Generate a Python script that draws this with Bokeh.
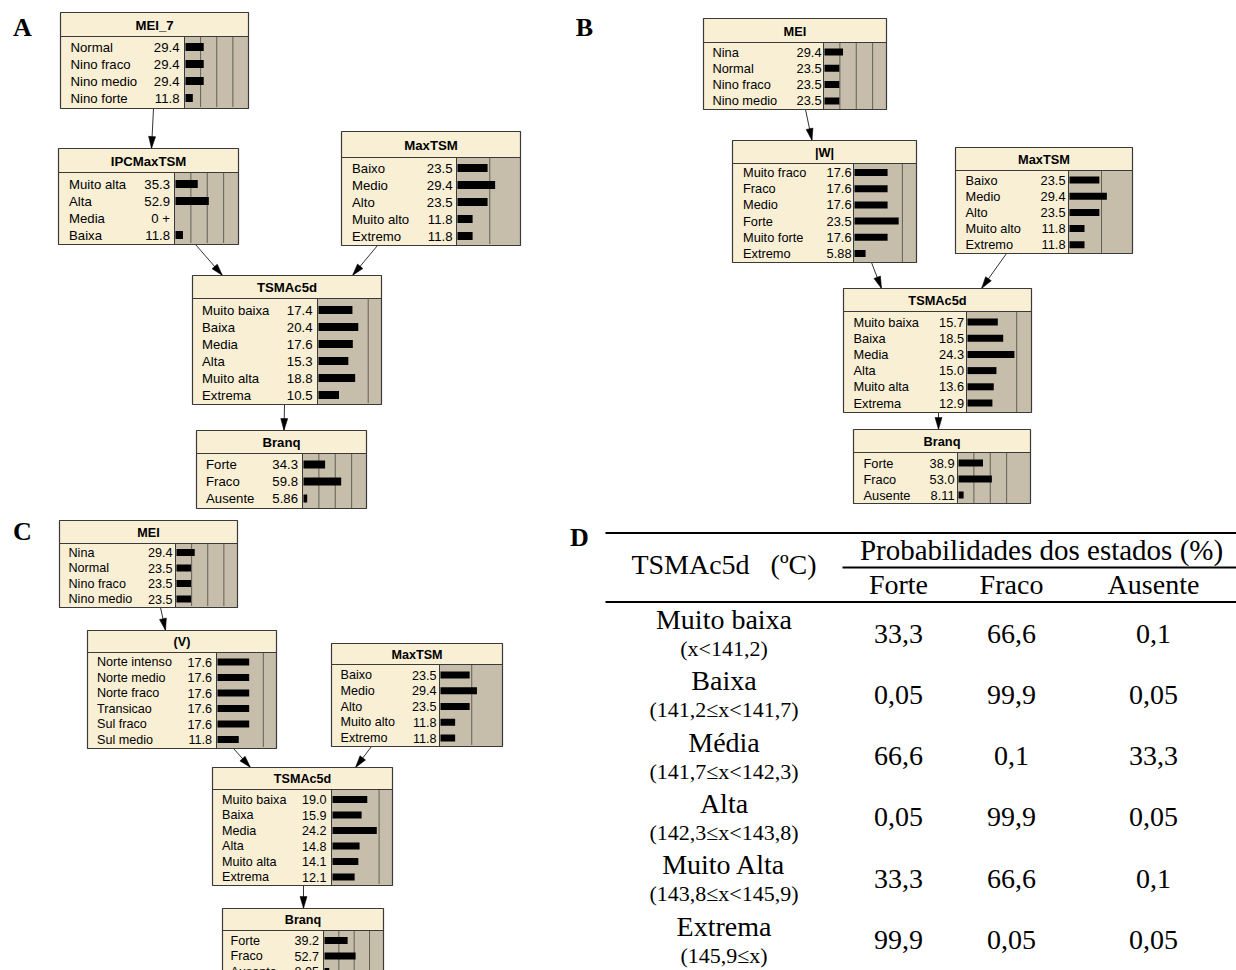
from bokeh.plotting import figure
from bokeh.models import Range1d
from bokeh.core.properties import value
from bokeh.embed import file_html
from bokeh.resources import INLINE
import math

# ---------------- data ----------------
# Panel A
A_mei7_states = ["Normal", "Nino fraco", "Nino medio", "Nino forte"]
A_mei7_probs = [29.4, 29.4, 29.4, 11.8]
A_ipc_states = ["Muito alta", "Alta", "Media", "Baixa"]
A_ipc_probs = [35.3, 52.9, 0.0, 11.8]
maxtsm_states = ["Baixo", "Medio", "Alto", "Muito alto", "Extremo"]
A_maxtsm_probs = [23.5, 29.4, 23.5, 11.8, 11.8]
tsm_states = ["Muito baixa", "Baixa", "Media", "Alta", "Muito alta", "Extrema"]
A_tsm_probs = [17.4, 20.4, 17.6, 15.3, 18.8, 10.5]
branq_states = ["Forte", "Fraco", "Ausente"]
A_branq_probs = [34.3, 59.8, 5.86]

# Panel B
mei_states = ["Nina", "Normal", "Nino fraco", "Nino medio"]
B_mei_probs = [29.4, 23.5, 23.5, 23.5]
B_w_states = ["Muito fraco", "Fraco", "Medio", "Forte", "Muito forte", "Extremo"]
B_w_probs = [17.6, 17.6, 17.6, 23.5, 17.6, 5.88]
B_maxtsm_probs = [23.5, 29.4, 23.5, 11.8, 11.8]
B_tsm_probs = [15.7, 18.5, 24.3, 15.0, 13.6, 12.9]
B_branq_probs = [38.9, 53.0, 8.11]

# Panel C
C_mei_probs = [29.4, 23.5, 23.5, 23.5]
C_v_states = ["Norte intenso", "Norte medio", "Norte fraco", "Transicao", "Sul fraco", "Sul medio"]
C_v_probs = [17.6, 17.6, 17.6, 17.6, 17.6, 11.8]
C_maxtsm_probs = [23.5, 29.4, 23.5, 11.8, 11.8]
C_tsm_probs = [19.0, 15.9, 24.2, 14.8, 14.1, 12.1]
C_branq_probs = [39.2, 52.7, 8.05]

# Panel D (table)
D_row_header = "TSMAc5d\u00a0\u00a0\u00a0(ºC)"
D_group_header = "Probabilidades dos estados (%)"
D_cols = ["Forte", "Fraco", "Ausente"]
D_classes = ["Muito baixa", "Baixa", "Média", "Alta", "Muito Alta", "Extrema"]
D_ranges = ["(x<141,2)", "(141,2≤x<141,7)", "(141,7≤x<142,3)",
            "(142,3≤x<143,8)", "(143,8≤x<145,9)", "(145,9≤x)"]
D_forte = [33.3, 0.05, 66.6, 0.05, 33.3, 99.9]
D_fraco = [66.6, 99.9, 0.1, 99.9, 66.6, 0.05]
D_ausente = [0.1, 0.05, 33.3, 0.05, 0.1, 0.05]

# ---------------- styles ----------------
CREAM = "#F8EFD5"
TAN = "#C6BEAA"
BORDER = "#3A3A3A"
NODE_FONT = "Liberation Sans"
SERIF = "Liberation Serif"
GRID = [26, 52, 78]

# ---------------- node layout ----------------
nodes = [
    # panel A
    dict(title="MEI_7", states=A_mei7_states, probs=A_mei7_probs, box=(60, 12, 248, 108), sep=36,
         split=184, first=46.5, step=17, lab=70, val=179, scale=62, fs=13.2, bh=8),
    dict(title="IPCMaxTSM", states=A_ipc_states, probs=A_ipc_probs, box=(58, 148, 238, 244), sep=172,
         split=174, first=183.5, step=17, lab=68.5, val=169.5, scale=63, fs=13.2, bh=8),
    dict(title="MaxTSM", states=maxtsm_states, probs=A_maxtsm_probs, box=(341, 131, 520, 245), sep=157,
         split=456, first=167.5, step=17, lab=351.5, val=452, scale=128, fs=13.2, bh=8),
    dict(title="TSMAc5d", states=tsm_states, probs=A_tsm_probs, box=(192, 275, 381, 404), sep=298,
         split=317, first=309.5, step=17, lab=201.5, val=312, scale=195, fs=13.2, bh=8),
    dict(title="Branq", states=branq_states, probs=A_branq_probs, box=(196, 430, 366, 508), sep=453,
         split=302, first=464, step=17, lab=205.5, val=297.5, scale=63, fs=13.2, bh=8),
    # panel B
    dict(title="MEI", states=mei_states, probs=B_mei_probs, box=(703, 18, 886, 109), sep=42,
         split=823, first=51.5, step=16.3, lab=712, val=821, scale=63, fs=12.8, bh=7),
    dict(title="|W|", states=B_w_states, probs=B_w_probs, box=(732, 140, 916, 262), sep=163,
         split=853, first=172, step=16.2, lab=742.5, val=851, scale=188, fs=12.8, bh=7),
    dict(title="MaxTSM", states=maxtsm_states, probs=B_maxtsm_probs, box=(955, 147, 1132, 253), sep=170,
         split=1068, first=179.5, step=16.2, lab=965, val=1065, scale=127, fs=12.8, bh=7),
    dict(title="TSMAc5d", states=tsm_states, probs=B_tsm_probs, box=(843, 288, 1031, 412), sep=311,
         split=966, first=321.5, step=16.2, lab=853, val=963.5, scale=193, fs=12.8, bh=7),
    dict(title="Branq", states=branq_states, probs=B_branq_probs, box=(853, 429, 1030, 503), sep=452,
         split=957, first=462.5, step=16, lab=863, val=954, scale=63, fs=12.8, bh=7),
    # panel C
    dict(title="MEI", states=mei_states, probs=C_mei_probs, box=(59, 520, 237, 607), sep=543,
         split=175, first=552, step=15.5, lab=68, val=172, scale=62, fs=12.6, bh=7),
    dict(title="(V)", states=C_v_states, probs=C_v_probs, box=(87, 630, 276, 748), sep=652,
         split=216, first=661.5, step=15.5, lab=96.5, val=211.5, scale=180, fs=12.6, bh=7),
    dict(title="MaxTSM", states=maxtsm_states, probs=C_maxtsm_probs, box=(331, 643, 502, 746), sep=664,
         split=439, first=674.5, step=15.75, lab=340, val=436, scale=124, fs=12.6, bh=7),
    dict(title="TSMAc5d", states=tsm_states, probs=C_tsm_probs, box=(212, 767, 392, 885), sep=789,
         split=331, first=799, step=15.5, lab=221.5, val=326, scale=183, fs=12.6, bh=7),
    dict(title="Branq", states=branq_states, probs=C_branq_probs, box=(222, 908, 383, 990), sep=930,
         split=323, first=940, step=15.5, lab=230, val=318.5, scale=59, fs=12.6, bh=7),
]

edges = [
    (153, 108, 151, 148), (195, 244, 222, 275), (377, 245, 352, 275), (284, 404, 283.5, 430),
    (805, 109, 811.5, 140), (871, 262, 881, 288), (1006, 253, 981, 288), (938, 412, 938, 429),
    (160, 607, 165, 630), (233, 748, 250, 767), (371, 746, 355, 767), (303, 885, 303, 908),
]


def fmt_node(v):
    if v == 0:
        return "0 +"
    return f"{v:.1f}" if v >= 10 else f"{v:.2f}"


def fmt_table(v):
    return f"{v:g}".replace(".", ",")


p = figure(width=1236, height=970, x_range=Range1d(0, 1236), y_range=Range1d(970, 0),
           output_backend="svg", toolbar_location=None, min_border=0,
           x_axis_location=None, y_axis_location=None)
p.grid.visible = False
p.outline_line_color = None
p.background_fill_color = "white"
p.border_fill_color = "white"

# ---- arrows (drawn first, below nodes) ----
hx, hy = [], []
for (xs, ys, xe, ye) in edges:
    p.line([xs, xe], [ys, ye], line_color="#333333", line_width=1)
    dx, dy = xe - xs, ye - ys
    L = math.hypot(dx, dy)
    ux, uy = dx / L, dy / L
    bx, by = xe - ux * 12, ye - uy * 12
    hx.append([xe, bx - uy * 3.5, bx + uy * 3.5])
    hy.append([ye, by + ux * 3.5, by - ux * 3.5])
p.patches(hx, hy, fill_color="black", line_color="black", line_width=0.5)

# ---- nodes ----
for n in nodes:
    x0, y0, x1, y1 = n["box"]
    sp, sep, sc = n["split"], n["sep"], n["scale"]
    p.quad(left=[x0], right=[x1], top=[y0], bottom=[y1], fill_color=CREAM, line_color=None)
    p.quad(left=[sp], right=[x1], top=[sep], bottom=[y1], fill_color=TAN, line_color=None)
    gx = [sp + f * sc / 100 for f in GRID if sp + f * sc / 100 < x1 - 2]
    if gx:
        p.segment(x0=gx, y0=[sep + 1] * len(gx), x1=gx, y1=[y1 - 1] * len(gx),
                  line_color="black", line_dash="1 1", line_width=1)
    centers = [n["first"] + i * n["step"] for i in range(len(n["states"]))]
    rights = [sp + 1 + v * sc / 100 for v in n["probs"]]
    p.hbar(y=centers, left=sp + 1, right=rights, height=n["bh"], fill_color="black", line_color=None)
    p.segment(x0=[x0, sp], y0=[sep, sep], x1=[x1, sp], y1=[sep, y1], line_color=BORDER, line_width=1)
    p.quad(left=[x0], right=[x1], top=[y0], bottom=[y1], fill_color=None, line_color=BORDER, line_width=1.2)
    fs = f"{n['fs']}px"
    p.text(x=[(x0 + x1) / 2], y=[(y0 + sep) / 2 + 0.5], text=[n["title"]], text_align="center",
           text_baseline="middle", text_font=value(NODE_FONT), text_font_style="bold",
           text_font_size=fs, text_color="black")
    p.text(x=[n["lab"]] * len(centers), y=centers, text=n["states"], text_align="left",
           text_baseline="middle", text_font=value(NODE_FONT), text_font_size=fs, text_color="black")
    p.text(x=[n["val"]] * len(centers), y=centers, text=[fmt_node(v) for v in n["probs"]],
           text_align="right", text_baseline="middle", text_font=value(NODE_FONT),
           text_font_size=fs, text_color="black")

# ---- panel letters ----
p.text(x=[22, 584, 22, 579], y=[26.5, 26.5, 531, 537], text=["A", "B", "C", "D"],
       text_align="center", text_baseline="middle", text_font=value(SERIF),
       text_font_style="bold", text_font_size="26px", text_color="black")

# ---- table D ----
p.segment(x0=[605, 842, 605], y0=[532.5, 567, 601.5], x1=[1236, 1236, 1236], y1=[532.5, 567, 601.5],
          line_color="black", line_width=2)
col_x = [898, 1011, 1153]
p.text(x=[723.5], y=[564], text=[D_row_header], text_align="center", text_baseline="middle",
       text_font=value(SERIF), text_font_size="28px", text_color="black")
p.text(x=[1041], y=[549], text=[D_group_header], text_align="center", text_baseline="middle",
       text_font=value(SERIF), text_font_size="29px", text_color="black")
p.text(x=col_x, y=[584] * 3, text=D_cols, text_align="center", text_baseline="middle",
       text_font=value(SERIF), text_font_size="28px", text_color="black")

row_y = [619 + i * 61.3 for i in range(len(D_classes))]
p.text(x=[723.5] * len(D_classes), y=row_y, text=D_classes, text_align="center",
       text_baseline="middle", text_font=value(SERIF), text_font_size="28px", text_color="black")
p.text(x=[723.5] * len(D_ranges), y=[y + 29 for y in row_y], text=D_ranges, text_align="center",
       text_baseline="middle", text_font=value(SERIF), text_font_size="22px", text_color="black")
for cx, vals in zip(col_x, [D_forte, D_fraco, D_ausente]):
    p.text(x=[cx] * len(vals), y=[y + 14 for y in row_y], text=[fmt_table(v) for v in vals],
           text_align="center", text_baseline="middle", text_font=value(SERIF),
           text_font_size="28px", text_color="black")

open("out.html", "w").write(file_html(p, INLINE))
